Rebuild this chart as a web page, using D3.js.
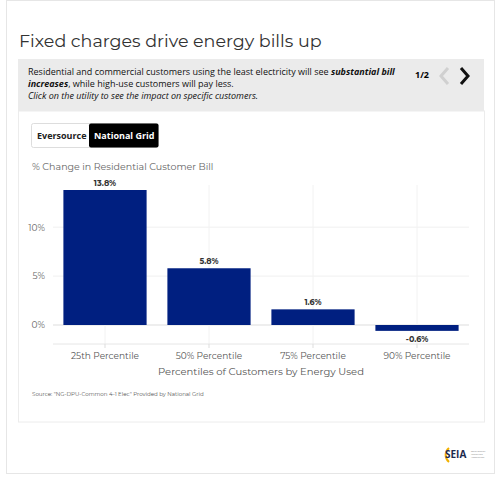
<!DOCTYPE html>
<html><head><meta charset="utf-8">
<script src="https://cdn.jsdelivr.net/npm/d3@7"></script>
<style>
body{margin:0;background:#fff;font-family:"Open Sans",sans-serif;}
</style></head>
<body>
<svg id="c" width="500" height="477"></svg>
<script>
var categories = ['25th Percentile','50% Percentile','75% Percentile','90% Percentile'];
var values = [13.8, 5.8, 1.6, -0.6];
var labels = ['13.8%','5.8%','1.6%','-0.6%'];
var yTicks = [0, 5, 10];

var svg = d3.select('#c');
var font = 'Montserrat, "Noto Sans", sans-serif';

// outer cards
svg.append('rect').attr('x',6.5).attr('y',0.5).attr('width',488).attr('height',473).attr('fill','#fff').attr('stroke','#e6e6e6');
svg.append('rect').attr('x',18.5).attr('y',111).attr('width',466).attr('height',311).attr('fill','#fff').attr('stroke','#ececec');

svg.append('text').attr('x',19).attr('y',47).text('Fixed charges drive energy bills up')
  .style('font-family',font).style('font-size','17.5px').style('fill','#333');

// note box
svg.append('rect').attr('x',18).attr('y',59).attr('width',466).attr('height',52).attr('fill','#ebebeb');
var note = svg.append('text').attr('x',28).style('font-size','9px').style('fill','#111').style('font-family','"Open Sans",sans-serif');
var l1 = note.append('tspan').attr('x',28).attr('y',75);
l1.append('tspan').text('Residential and commercial customers using the least electricity will see ');
l1.append('tspan').text('substantial bill').style('font-weight','bold').style('font-style','italic');
var l2 = note.append('tspan').attr('x',28).attr('y',87);
l2.append('tspan').text('increases').style('font-weight','bold').style('font-style','italic');
l2.append('tspan').text(', while high-use customers will pay less.');
note.append('tspan').attr('x',28).attr('y',99).text('Click on the utility to see the impact on specific customers.').style('font-style','italic');
svg.append('text').attr('x',415).attr('y',78).text('1/2').style('font-size','9px').style('font-weight','bold');
svg.append('path').attr('d','M448,68 L441,76 L448,84').attr('fill','none').attr('stroke','#d0d0d0').attr('stroke-width',3);
svg.append('path').attr('d','M461,68 L468,76 L461,84').attr('fill','none').attr('stroke','#111').attr('stroke-width',3);

// buttons
svg.append('rect').attr('x',31.5).attr('y',123.5).attr('width',127).attr('height',24).attr('rx',2).attr('fill','#fff').attr('stroke','#ddd');
svg.append('rect').attr('x',89).attr('y',123.5).attr('width',69.5).attr('height',24).attr('rx',2).attr('fill','#000');
svg.append('text').attr('x',37).attr('y',139).text('Eversource').style('font-size','9px').style('font-weight','bold').style('fill','#222');
svg.append('text').attr('x',94).attr('y',139).text('National Grid').style('font-size','9px').style('font-weight','bold').style('fill','#fff');

svg.append('text').attr('x',32).attr('y',170).text('% Change in Residential Customer Bill')
  .style('font-family',font).style('font-size','9.5px').style('fill','#666');

// chart
var x = d3.scaleBand().domain(categories).range([53,469]).paddingInner(0.2).paddingOuter(0.1);
var y = d3.scaleLinear().domain([0,13.8]).range([325,190]);

var grid = svg.append('g');
grid.selectAll('line.h').data(yTicks).enter().append('line')
  .attr('x1',53).attr('x2',469).attr('y1',function(d){return y(d);}).attr('y2',function(d){return y(d);})
  .attr('stroke',function(d){return d===0?'#ddd':'#f0f0f0';});
grid.selectAll('line.v').data(categories).enter().append('line')
  .attr('x1',function(d){return x(d)+x.bandwidth()/2;}).attr('x2',function(d){return x(d)+x.bandwidth()/2;})
  .attr('y1',185).attr('y2',344).attr('stroke','#f2f2f2');
svg.append('line').attr('x1',53).attr('x2',469).attr('y1',344).attr('y2',344).attr('stroke','#e6e6e6');

var yAxis = svg.append('g').attr('transform','translate(48,0)')
  .call(d3.axisLeft(y).tickValues(yTicks).tickFormat(function(d){return d+'%';}).tickSize(0));
yAxis.select('.domain').remove();
yAxis.selectAll('text').style('font-family',font).style('font-size','9px').style('fill','#666');

var xAxis = svg.append('g').attr('transform','translate(0,344)')
  .call(d3.axisBottom(x).tickSize(4).tickPadding(5));
xAxis.select('.domain').remove();
xAxis.selectAll('line').attr('stroke','#ddd');
xAxis.selectAll('text').style('font-family',font).style('font-size','9px').style('fill','#555');

svg.selectAll('rect.bar').data(values).enter().append('rect').attr('class','bar')
  .attr('x',function(d,i){return x(categories[i]);}).attr('width',x.bandwidth())
  .attr('y',function(d){return y(Math.max(0,d));})
  .attr('height',function(d){return Math.abs(y(d)-y(0));})
  .attr('fill','#001f80');

svg.selectAll('text.val').data(values).enter().append('text').attr('class','val')
  .attr('x',function(d,i){return x(categories[i])+x.bandwidth()/2;})
  .attr('y',function(d){return d>=0?y(d)-4:y(d)+11;})
  .attr('text-anchor','middle').text(function(d,i){return labels[i];})
  .style('font-family',font).style('font-size','8px').style('font-weight','bold').style('fill','#333');

svg.append('text').attr('x',261).attr('y',375).attr('text-anchor','middle').text('Percentiles of Customers by Energy Used')
  .style('font-family',font).style('font-size','10px').style('fill','#555');
svg.append('text').attr('x',32).attr('y',396).text('Source: "NG-DPU-Common 4-1 Elec" Provided by National Grid')
  .style('font-family',font).style('font-size','5.5px').style('fill','#555');

// logo
svg.append('path').attr('d','M449,448 A9,9 0 0 0 449,462').attr('fill','none').attr('stroke','#f2b100').attr('stroke-width',2);
svg.append('text').attr('x',445).attr('y',458).text('SEIA').style('font-size','10px').style('font-weight','bold').style('fill','#1d2a4d');
svg.append('text').attr('x',471).attr('y',452).text('Solar Energy').style('font-size','2.5px').style('fill','#888');
svg.append('text').attr('x',471).attr('y',455).text('Industries').style('font-size','2.5px').style('fill','#888');
svg.append('text').attr('x',471).attr('y',458).text('Association').style('font-size','2.5px').style('fill','#888');
</script>
</body></html>
